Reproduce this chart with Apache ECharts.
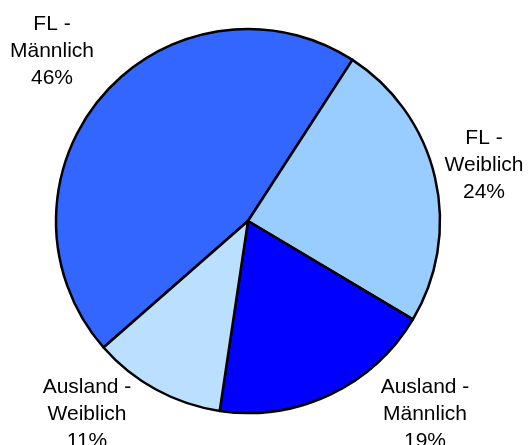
<!DOCTYPE html>
<html>
<head>
<meta charset="utf-8">
<title>Pie</title>
<script src="https://cdn.jsdelivr.net/npm/echarts@6/dist/echarts.min.js"></script>
<style>
  html, body { margin: 0; padding: 0; background: #fff; }
  #chart { width: 528px; height: 445px; }
</style>
</head>
<body>
<div id="chart"></div>
<script>
// Werte aus dem Bild geschätzt (Anteile in %)
const categories = ['FL - Männlich', 'FL - Weiblich', 'Ausland - Männlich', 'Ausland - Weiblich'];
const values = [45.6, 24.4, 18.8, 11.2];
const colors = ['#3366FF', '#99CCFF', '#0000FF', '#BBE0FF'];

// Lage der Beschriftungen (Mitte des Textblocks, px)
const labelSpots = [[52, 51], [484, 165], [425, 414], [87, 414]];

const chart = echarts.init(document.getElementById('chart'));

chart.setOption({
  animation: false,
  series: [
    {
      type: 'pie',
      center: [248, 221],
      radius: 192,
      startAngle: 221.2,
      clockwise: true,
      data: categories.map((name, i) => ({
        name: name,
        value: values[i],
        itemStyle: { color: colors[i] }
      })),
      itemStyle: {
        borderColor: '#000',
        borderWidth: 2.5
      },
      label: {
        show: true,
        position: 'outside',
        color: '#000',
        fontFamily: '"Liberation Sans", Arial, sans-serif',
        fontSize: 21,
        lineHeight: 27,
        overflow: 'none',
        formatter: (p) => {
          const parts = p.name.split(' - ');
          return parts[0] + ' -\n' + parts[1] + '\n' + Math.round(p.percent) + '%';
        }
      },
      labelLine: { show: false },
      labelLayout: (params) => {
        const spot = labelSpots[params.dataIndex];
        return {
          x: spot[0],
          y: spot[1],
          align: 'center',
          verticalAlign: 'middle'
        };
      },
      emphasis: { disabled: true }
    }
  ]
});
</script>
</body>
</html>
